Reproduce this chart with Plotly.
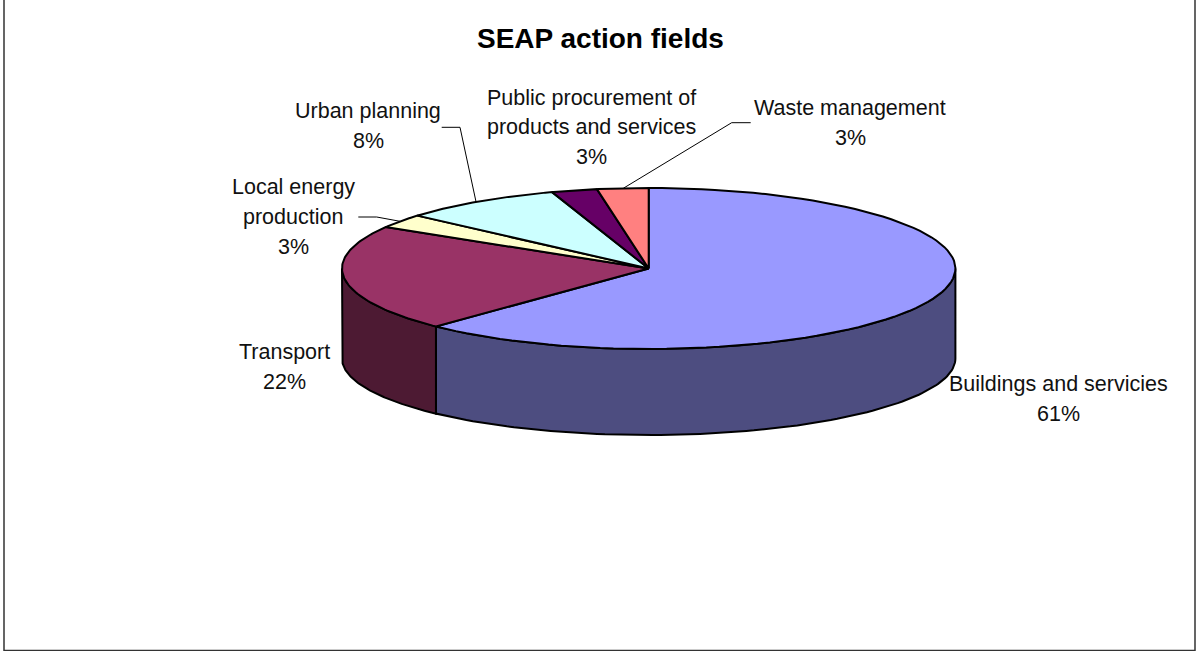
import math
import plotly.graph_objects as go

title = "SEAP action fields"
categories = ["Buildings and servicies", "Transport", "Local energy production",
              "Urban planning", "Public procurement of products and services", "Waste management"]
shares = [62.2, 21.4, 2.8, 8.5, 2.4, 2.7]
percent_labels = ["61%", "22%", "3%", "8%", "3%", "3%"]
top_colors = ["#9999FF", "#993366", "#FFFFCC", "#CCFFFF", "#660066", "#FF8080"]
side_colors = ["#4D4D80", "#4D1A33", "#808066", "#668080", "#330033", "#804040"]

W, H = 1196, 651
CX, CY, RX, RY = 648.7, 268.5, 306.7, 80.5
BOT_CY, BOT_RY = 358.5, 76.5
FONT = "Liberation Sans, Arial, sans-serif"
LABEL_SIZE = 21.5

label_layout = {
    "Buildings and servicies": (1058, [("Buildings and servicies", 384), ("61%", 414)]),
    "Transport": (284, [("Transport", 352), ("22%", 382)]),
    "Local energy production": (293, [("Local energy", 187), ("production", 217), ("3%", 247)]),
    "Urban planning": (368, [("Urban planning", 111), ("8%", 141)]),
    "Public procurement of products and services": (591, [("Public procurement of", 97.5), ("products and services", 127), ("3%", 157)]),
    "Waste management": (850, [("Waste management", 108), ("3%", 138)]),
}
leaders = [
    [(441.7, 127.3), (460, 127.3), (476, 201.7)],
    [(358.3, 217), (376.7, 217), (400, 221.3)],
    [(750.7, 122.7), (731.7, 122.7), (623.3, 188.3)],
]


def top_pt(t):
    return CX + RX * math.sin(t), CY - RY * math.cos(t)


def bot_pt(t):
    return CX + RX * math.sin(t), BOT_CY - BOT_RY * math.cos(t)


def frange(a, b, n=90):
    return [a + (b - a) * i / n for i in range(n + 1)]


total = sum(shares)
edges = [0.0]
for s in shares:
    edges.append(edges[-1] + s / total * 2 * math.pi)

fig = go.Figure()


def poly(pts, color, name):
    fig.add_trace(go.Scatter(
        x=[p[0] for p in pts] + [pts[0][0]], y=[p[1] for p in pts] + [pts[0][1]],
        mode="lines", fill="toself", fillcolor=color,
        line=dict(color="black", width=2), hoverinfo="text", text=name, showlegend=False))


# side walls, front half only
for i, name in enumerate(categories):
    a, b = max(edges[i], math.pi / 2), min(edges[i + 1], 3 * math.pi / 2)
    if a < b:
        ts = frange(a, b)
        poly([top_pt(t) for t in ts] + [bot_pt(t) for t in reversed(ts)], side_colors[i], name)

# top faces
for i, name in enumerate(categories):
    ts = frange(edges[i], edges[i + 1])
    poly([(CX, CY)] + [top_pt(t) for t in ts], top_colors[i], name)

shapes = [dict(type="rect", x0=4, y0=-5, x1=1195, y1=650.5, xref="x", yref="y",
               line=dict(color="#333333", width=1.5))]
for pts in leaders:
    path = "M " + " L ".join(f"{x},{y}" for x, y in pts)
    shapes.append(dict(type="path", path=path, xref="x", yref="y", line=dict(color="black", width=1)))

annotations = [dict(x=600, y=38, xref="x", yref="y", text=f"<b>{title}</b>", showarrow=False,
                    font=dict(family=FONT, size=28, color="black"))]
for cat in categories:
    cx, lines = label_layout[cat]
    for text, y in lines:
        annotations.append(dict(x=cx, y=y, xref="x", yref="y", text=text, showarrow=False,
                                font=dict(family=FONT, size=LABEL_SIZE, color="#111111")))

fig.update_layout(
    width=W, height=H, margin=dict(l=0, r=0, t=0, b=0),
    paper_bgcolor="white", plot_bgcolor="white", showlegend=False,
    xaxis=dict(range=[0, W], visible=False, fixedrange=True),
    yaxis=dict(range=[H, 0], visible=False, fixedrange=True),
    shapes=shapes, annotations=annotations,
)
fig.write_html("out.html", config={"displayModeBar": False},
               post_script="document.body.style.margin='0';document.body.style.overflow='hidden';")
